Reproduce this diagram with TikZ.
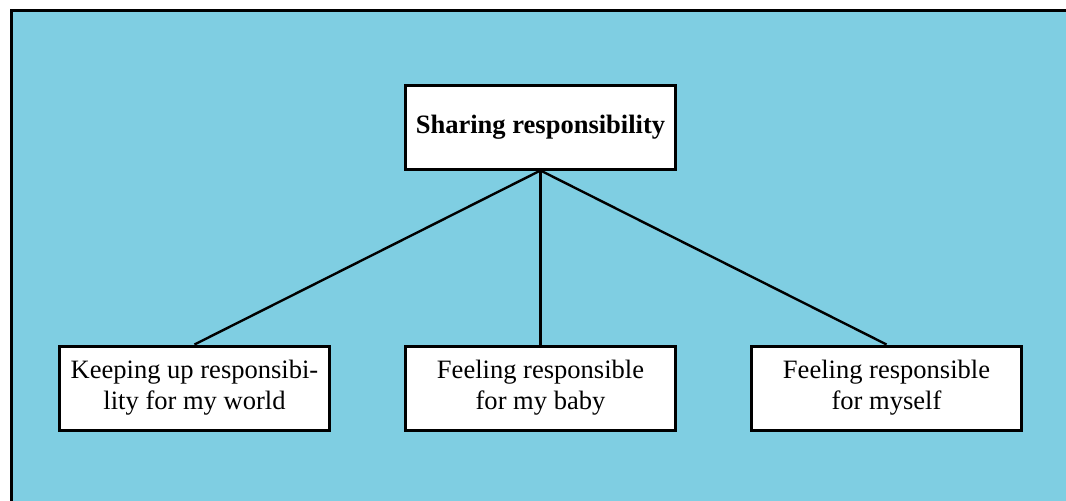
\documentclass[tikz,border=0pt]{standalone}
\usepackage{fontspec}
\setmainfont{Liberation Serif}
\definecolor{skyfill}{RGB}{127,206,226}
\usetikzlibrary{positioning}

\tikzset{
  themebox/.style={draw=black, line width=2.25pt, fill=white, minimum width=203pt, minimum height=63pt, inner sep=2pt, align=center, font=\fontsize{19.9}{23.3}\selectfont},
  link/.style={draw=black, line width=1.8pt}
}

\begin{document}
\begin{tikzpicture}[x=0.75pt,y=0.75pt,yscale=-1,xscale=1]
	\useasboundingbox (0,0) rectangle (1066,500);
	\clip (0,0) rectangle (1066,500);
	
	%Shape: Background frame
	\draw [line width=2.25pt, fill=skyfill] (11,10) rectangle (1090,520);
	
	% Main theme
	\node [themebox] (share) at (540.5,127) {\textbf{Sharing responsibility}};
	% Sub themes
	\node [themebox] (world) at (194.5,388) {Keeping up responsibi-\\lity for my world};
	\node [themebox] (baby) at (540.5,388) {Feeling responsible\\for my baby};
	\node [themebox] (self) at (886.5,388) {Feeling responsible\\for myself};
	
	% Links
	\draw [link] (share.south) -- (world.north);
	\draw [link] (share.south) -- (baby.north);
	\draw [link] (share.south) -- (self.north);
	
\end{tikzpicture}
\end{document}
